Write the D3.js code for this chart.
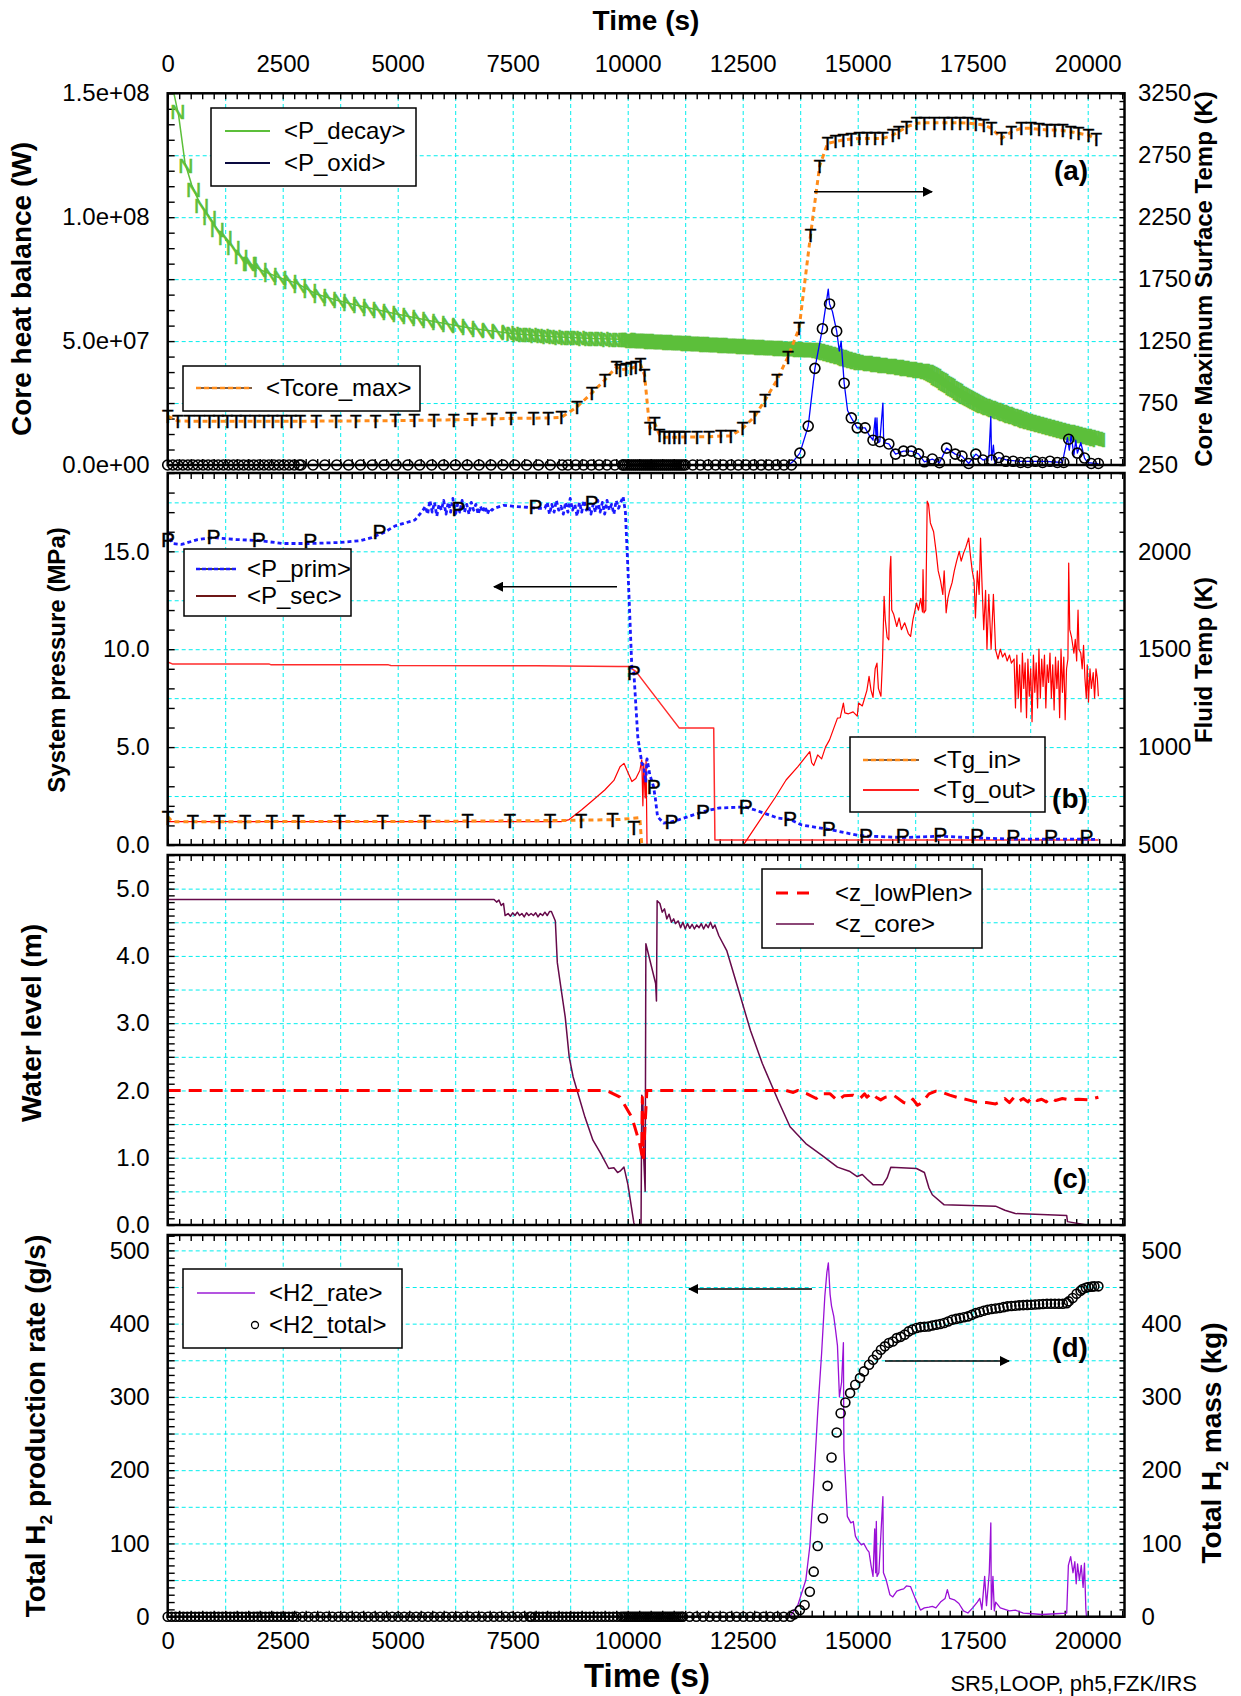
<!DOCTYPE html>
<html>
<head>
<meta charset="utf-8">
<script src="https://cdn.jsdelivr.net/npm/d3@7"></script>
<style>
  body { margin: 0; background: #fff; }
  svg { display: block; font-family: "Liberation Sans", Arial, sans-serif; }
  .grid line { stroke: #00eeee; stroke-width: 1; stroke-dasharray: 4 3; }
  .tk line { stroke: #000; stroke-width: 1.4; }
  .lab text { font-size: 24px; font-family: "Liberation Sans", Arial, sans-serif; }
  .title { font-weight: bold; }
</style>
</head>
<body>
<svg id="chart" width="1241" height="1696"></svg>
<script>
// ---- tick labels ----
const timeLabels = [0, 2500, 5000, 7500, 10000, 12500, 15000, 17500, 20000];
const heatLabels = [0, 5e7, 1e8, 1.5e8];
const tcoreLabels = [250, 750, 1250, 1750, 2250, 2750, 3250];
const pressLabels = [0, 5, 10, 15];
const fluidLabels = [500, 1000, 1500, 2000];
const levelLabels = [0, 1, 2, 3, 4, 5];
const h2Labels = [0, 100, 200, 300, 400, 500];

// ---- panel (a): core heat balance [t (s), W] and Tcore [t, K] ----
const pDecay = [[0,1.75e8],[135,1.5e8],[238,1.41e8],[375,1.22e8],[522,1.13e8],[694,1.057e8],[908,1.0e8],
  [1080,9.5e7],[1295,9.1e7],[1510,8.55e7],[1768,8.15e7],[2025,7.87e7],[2369,7.6e7],[2799,7.34e7],[3228,6.9e7],
  [3658,6.66e7],[4088,6.46e7],[4947,6.1e7],[5806,5.78e7],[6666,5.5e7],[7525,5.3e7],[8384,5.18e7],[9243,5.1e7],
  [9833,5.07e7],[12000,4.85e7],[14130,4.64e7],[14990,4.17e7],[15849,3.97e7],[16536,3.77e7],[16880,3.35e7],
  [17310,2.8e7],[17740,2.4e7],[18427,1.95e7],[18690,1.78e7],[19286,1.48e7],[20232,1.05e7]];
// spacing of the "N" symbols along P_decay: [from, to, step]
const decaySymbolSegs = [[221,1800,172],[1800,7500,215],[7500,10000,130],[10000,20250,40]];

const pOxid = [[0,0],[13500,0],[13600,1.5e6],[13743,4.8e6],[13924,1.57e7],[14070,3.9e7],[14233,5.5e7],[14360,7.1e7],
  [14388,6.5e7],[14450,6.2e7],[14543,5.4e7],[14600,4.6e7],[14640,5.0e7],[14706,3.3e7],[14780,2.2e7],[14861,1.9e7],
  [14990,1.5e7],[15100,1.5e7],[15161,1.5e7],[15250,1.2e7],[15333,1.0e7],[15380,1.9e7],[15400,1.0e7],[15419,1.9e7],
  [15440,9e6],[15480,9.4e6],[15548,2.5e7],[15565,9e6],[15677,8.5e6],[15823,4.4e6],[15995,5.6e6],[16167,5.6e6],
  [16322,4.5e6],[16450,1.3e6],[16622,2.4e6],[16777,0.9e6],[16932,6.8e6],[17121,4.4e6],[17267,3.6e6],[17413,0.6e6],
  [17568,4.4e6],[17723,2e6],[17850,3e6],[17894,1.95e7],[17910,2e6],[17950,8e6],[17980,1e6],[18066,3e6],[18250,2e6],
  [18500,1.5e6],[18800,1.5e6],[19100,1.5e6],[19450,1e6],[19560,1.1e7],[19600,6e6],[19640,1.2e7],[19700,4e6],
  [19740,1.0e7],[19776,4.8e6],[19850,9e6],[19931,2.8e6],[20000,1e6],[20232,0.5e6]];
const pOxidSymbols = [[13743,4.8e6],[13924,1.57e7],[14070,3.9e7],[14233,5.5e7],[14388,6.5e7],[14543,5.4e7],
  [14706,3.3e7],[14861,1.9e7],[14990,1.5e7],[15161,1.5e7],[15333,1.0e7],[15480,9.4e6],[15677,8.5e6],[15823,4.4e6],
  [15995,5.6e6],[16167,5.6e6],[16322,4.5e6],[16450,1.3e6],[16622,2.4e6],[16777,0.9e6],[16932,6.8e6],[17121,4.4e6],
  [17267,3.6e6],[17413,0.6e6],[17568,4.4e6],[17723,2e6],[17912,2e6],[18066,3e6],[18220,1.5e6],[18380,1.5e6],
  [18540,1e6],[18700,1e6],[18860,1.5e6],[19020,1e6],[19180,1.5e6],[19340,1e6],[19480,1e6],[19587,1.04e7],
  [19776,4.8e6],[19931,2.8e6],[20077,0.6e6],[20232,0.6e6]];
const pOxidZeroSegs = [[0,2900,110],[2900,8700,258],[8700,9900,170],[9900,11250,45],[11250,13650,165]];

const tcoreTime = [0,221,462,694,908,1106,1295,1493,1682,1896,2094,2283,2481,2687,2885,3228,3658,4088,4517,4947,
  5360,5789,6219,6623,7052,7465,7954,8272,8556,8900,9218,9501,9759,9833,9962,10074,10177,10280,10366,10478,
  10589,10692,10796,10907,11011,11122,11251,11509,11767,12025,12239,12497,12755,12987,13245,13485,13726,13975,14173,14345,
  14517,14689,14861,15033,15204,15376,15548,15763,15892,16064,16279,16450,16665,16880,17052,17224,17396,17568,17739,17911,
  18126,18341,18556,18771,18943,19115,19286,19458,19630,19802,20017,20189];
const tcoreK = [645,605,604,604,604,604,604,604,604,604,604,604,604,604,604,604,605,606,607,608,
  610,612,615,618,622,626,628,630,634,720,830,936,1043,1017,1025,1030,1043,1060,977,545,
  586,492,473,473,473,476,476,477,478,484,484,545,640,775,936,1124,1353,2106,2665,2846,
  2860,2873,2881,2886,2886,2886,2886,2913,2940,2980,3008,3013,3013,3013,3013,3013,3010,3002,2994,2967,
  2886,2940,2967,2967,2960,2954,2954,2950,2940,2927,2913,2878];

// ---- panel (b): pressures [t, MPa] and fluid temperatures [t, K] ----
const pPrim = [[0,16.0],[100,15.4],[300,15.35],[650,15.6],[994,15.7],[1500,15.6],[1982,15.55],[2500,15.4],[3100,15.4],
  [3744,15.45],[4200,15.55],[4432,15.7],[4690,15.95],[4947,16.3],[5377,16.6],[5550,17.1],
  [5600,17.3],[5650,16.9],[5700,17.6],[5750,17.0],[5800,17.5],[5850,16.8],[5900,17.4],[5950,17.1],[6000,17.6],[6050,16.9],
  [6100,17.5],[6150,17.0],[6200,17.7],[6250,16.8],[6300,17.4],[6350,17.0],[6400,17.6],[6450,17.0],[6500,17.4],[6550,16.9],
  [6600,17.5],[6650,17.1],[6700,17.4],[6750,16.9],[6800,17.3],[6850,17.0],[6900,17.3],[6950,16.9],[7000,17.2],[7050,17.1],
  [7100,17.2],[7300,17.35],[7525,17.3],[7800,17.25],[8000,17.2],[8200,17.2],
  [8250,17.5],[8300,16.9],[8350,17.4],[8400,17.0],[8450,17.6],[8500,17.1],[8550,17.3],[8600,16.9],[8650,17.5],[8700,17.0],
  [8750,17.7],[8800,17.1],[8850,17.4],[8900,16.8],[8950,17.5],[9000,17.0],[9050,17.6],[9100,17.1],[9150,17.3],[9200,16.9],
  [9250,17.4],[9300,17.0],[9350,17.6],[9400,17.0],[9450,17.5],[9500,16.9],[9550,17.6],[9600,17.1],[9650,17.4],[9700,16.9],
  [9750,17.6],[9800,17.2],[9850,17.5],[9900,17.8],[9950,17.0],
  [10005,14.1],[10091,9.0],[10134,8.8],[10220,5.5],[10306,4.2],[10349,4.0],[10392,3.2],[10420,4.4],[10480,3.6],
  [10560,3.0],[10600,2.4],[10649,1.45],[10778,1.12],[10950,1.18],[11122,1.3],[11380,1.5],[11638,1.7],[11982,1.89],
  [12411,1.93],[12566,1.93],[12755,1.8],[13271,1.37],[13529,1.3],[13786,1.02],[14371,0.8],[14990,0.5],[15178,0.46],
  [15978,0.38],[16794,0.45],[17593,0.36],[18384,0.3],[19200,0.3],[19973,0.3],[20232,0.28]];
const pPrimSymbols = [[6,15.6],[994,15.75],[1982,15.6],[3100,15.55],[4603,16.0],[6322,17.2],[7997,17.3],[9218,17.5],
  [10134,8.8],[10564,3.0],[10950,1.2],[11638,1.7],[12566,1.95],[13529,1.36],[14371,0.85],[15178,0.5],[15978,0.5],
  [16794,0.55],[17593,0.5],[18384,0.43],[19200,0.43],[19973,0.43]];
const pSec = [[0,9.35],[100,9.25],[2200,9.25],[2250,9.2],[4800,9.2],[4850,9.17],[8000,9.15],[9800,9.12],[10005,9.12],
  [10177,8.87],[11122,5.97],[11870,5.97],[11896,0.26],[20232,0.26]];
const tgIn = [[0,645],[100,619],[5000,620],[8500,625],[9833,630],[10263,640],[10306,500],[10330,470]];
const tgInSymbols = [[6,640],[547,619],[1123,619],[1682,619],[2266,619],[2842,619],[3744,619],[4672,620],[5592,621],
  [6520,622],[7439,624],[8315,625],[8986,625],[9673,629],[10134,590]];
const tgOut = [[0,619],[8556,619],[8728,630],[9000,680],[9250,730],[9501,781],[9700,830],[9833,900],[9919,917],
  [10005,870],[10091,824],[10177,840],[10263,880],[10306,935],[10330,700],[10349,917],[10380,740],[10400,935],
  [10420,500],[10440,470],[12480,470],[12500,495],[12927,645],[13200,740],[13443,832],[13700,900],[13850,945],
  [13959,977],[14000,920],[14044,906],[14130,960],[14216,940],[14300,1000],[14388,1037],[14560,1148],[14620,1150],
  [14689,1225],[14720,1175],[14800,1170],[14900,1180],[14990,1158],[15020,1225],[15100,1210],[15200,1290],[15247,1361],
  [15290,1290],[15333,1254],[15380,1400],[15419,1429],[15450,1300],[15505,1260],[15540,1450],[15574,1770],[15600,1650],
  [15640,1560],[15677,1548],[15700,1900],[15720,1974],[15740,1700],[15780,1680],[15849,1616],[15900,1660],[15950,1600],
  [16021,1635],[16100,1580],[16150,1565],[16200,1650],[16279,1736],[16320,1700],[16370,1760],[16408,1690],[16420,1906],
  [16440,1686],[16480,1700],[16511,2256],[16540,2240],[16580,2145],[16650,2100],[16708,1992],[16750,1900],[16800,1850],
  [16850,1780],[16880,1900],[16923,1686],[16960,1760],[17000,1800],[17052,1840],[17100,1900],[17150,1950],[17207,2000],
  [17250,1950],[17300,1990],[17350,2020],[17413,2068],[17450,1980],[17490,1900],[17530,1850],[17560,1660],[17600,1900],
  [17640,1780],[17671,2068],[17700,1850],[17740,1600],[17780,1800],[17810,1500],[17850,1780],[17900,1500],[17950,1780],
  [17997,1497],[18050,1450],[18100,1500],[18150,1460],[18200,1480],[18250,1440],[18300,1470],[18341,1429],[18400,1450],
  [18430,1200],[18460,1470],[18490,1250],[18520,1420],[18550,1180],[18580,1480],[18610,1300],[18640,1430],[18670,1150],
  [18700,1450],[18730,1260],[18760,1400],[18790,1130],[18820,1470],[18850,1280],[18880,1430],[18910,1200],[18940,1500],
  [18970,1250],[19000,1450],[19030,1310],[19060,1470],[19090,1200],[19120,1420],[19150,1330],[19180,1480],[19210,1250],
  [19240,1420],[19270,1190],[19300,1460],[19330,1300],[19360,1440],[19390,1150],[19420,1500],[19450,1280],[19480,1460],
  [19510,1140],[19540,1400],[19570,1450],[19587,1940],[19610,1600],[19650,1560],[19700,1480],[19730,1550],[19760,1440],
  [19790,1700],[19810,1500],[19850,1480],[19880,1400],[19910,1520],[19940,1350],[19970,1250],[19990,1420],[20017,1230],
  [20050,1400],[20080,1300],[20120,1380],[20150,1250],[20180,1400],[20210,1350],[20232,1260]];

// ---- panel (c): water levels [t, m] ----
const zLowPlen = [[0,2.0],[9501,2.0],[9600,1.98],[9833,1.9],[10091,1.6],[10200,1.35],[10263,1.2],[10306,1.05],
  [10318,1.9],[10340,1.0],[10417,2.0],[13443,2.0],[13600,1.97],[13700,2.0],[13900,1.95],
  [14100,1.88],[14200,1.95],[14400,1.95],[14560,1.85],[14700,1.92],[14900,1.93],[15050,1.88],[15150,1.95],[15200,1.9],
  [15300,1.96],[15400,1.9],[15500,1.86],[15600,1.9],[15800,1.92],[16000,1.82],[16107,1.8],[16200,1.87],[16300,1.78],
  [16400,1.82],[16550,1.95],[16700,1.99],[16800,1.98],[17000,1.93],[17200,1.89],[17400,1.86],[17568,1.83],[17800,1.82],
  [17997,1.8],[18100,1.83],[18200,1.88],[18300,1.82],[18400,1.9],[18500,1.84],[18600,1.88],[18700,1.83],[18800,1.9],
  [18900,1.85],[19000,1.87],[19100,1.83],[19200,1.89],[19300,1.85],[19450,1.88],[19600,1.86],[19800,1.87],[20000,1.86],
  [20232,1.9]];
const zCore = [[0,4.84],[7095,4.84],[7150,4.8],[7200,4.83],[7250,4.75],[7300,4.78],[7335,4.6],[7400,4.63],[7450,4.59],
  [7500,4.64],[7550,4.6],[7600,4.65],[7650,4.6],[7700,4.63],[7750,4.58],[7800,4.64],[7850,4.6],[7900,4.63],[7950,4.6],
  [8000,4.64],[8050,4.58],[8100,4.63],[8150,4.6],[8200,4.65],[8250,4.6],[8300,4.66],[8341,4.66],[8427,4.52],[8470,3.9],
  [8556,3.49],[8642,3.09],[8728,2.5],[8814,2.2],[8943,1.9],[9072,1.6],[9244,1.26],[9416,1.06],[9587,0.84],[9700,0.85],
  [9780,0.78],[9833,0.8],[9919,0.86],[10005,0.6],[10134,0.03],[10150,0],[10290,0],[10306,1.93],[10330,1.85],[10350,0.97],
  [10380,0.5],[10395,4.18],[10607,3.59],[10625,3.33],[10640,4.82],[10700,4.78],[10750,4.65],[10800,4.7],[10850,4.55],
  [10900,4.62],[10950,4.5],[11000,4.55],[11036,4.48],[11100,4.52],[11150,4.42],[11200,4.5],[11250,4.4],[11300,4.48],
  [11350,4.41],[11400,4.47],[11450,4.4],[11500,4.46],[11552,4.42],[11600,4.48],[11650,4.4],[11700,4.47],[11750,4.42],
  [11800,4.5],[11850,4.41],[11896,4.46],[11982,4.3],[12153,4.08],[12411,3.49],[12669,2.89],[12927,2.4],[13271,1.85],
  [13529,1.46],[13872,1.21],[14216,1.04],[14560,0.86],[14818,0.8],[14990,0.72],[15100,0.75],[15204,0.68],[15333,0.6],
  [15548,0.6],[15640,0.7],[15720,0.86],[16279,0.84],[16450,0.78],[16550,0.55],[16622,0.45],[16880,0.3],[17997,0.28],
  [18200,0.22],[18427,0.17],[19544,0.14],[19560,0.05],[19974,0],[20232,0]];

// ---- panel (d): hydrogen [t, g/s] and [t, kg] ----
const h2Rate = [[0,0],[13528,0],[13700,16],[13872,50],[13959,96],[14044,182],[14130,278],[14216,360],[14285,437],
  [14330,470],[14362,483],[14400,440],[14431,424],[14480,410],[14517,392],[14560,370],[14603,300],[14650,320],
  [14689,374],[14700,228],[14775,137],[14850,128],[14904,130],[14950,110],[14990,105],[15080,98],[15130,100],
  [15200,92],[15247,88],[15290,70],[15333,55],[15370,120],[15390,60],[15405,130],[15420,55],[15460,60],[15548,164],
  [15560,60],[15620,50],[15700,30],[15763,27],[15850,35],[15935,37],[16000,38],[16060,42],[16150,41],[16250,25],
  [16365,9],[16450,12],[16550,13],[16622,14],[16700,12],[16800,20],[16900,25],[16949,37],[17000,25],[17100,23],
  [17200,18],[17300,8],[17396,5],[17500,12],[17600,20],[17654,25],[17700,10],[17760,55],[17800,15],[17860,60],
  [17894,128],[17905,10],[17940,55],[17970,8],[18000,20],[18100,12],[18300,8],[18427,9],[18600,5],[18800,4],
  [19000,3],[19300,4],[19544,5],[19580,70],[19630,82],[19680,60],[19720,75],[19750,45],[19780,72],[19820,50],
  [19860,70],[19900,40],[19930,73],[19960,10],[19974,0],[20232,0]];
const h2Total = [[13614,3],[13743,9],[13846,16],[13959,34],[14044,61.5],[14130,96.6],[14242,134.4],[14345,178.6],
  [14431,217.3],[14543,251.4],[14629,277.8],[14732,292.4],[14835,305.2],[14947,316.5],[15049,325.7],[15135,334.8],
  [15247,343.9],[15333,350.7],[15419,357.5],[15505,364.4],[15591,369],[15677,373.5],[15763,375.7],[15849,380.3],
  [15935,382],[16021,385],[16107,389.4],[16190,392],[16279,394],[16364,395.3],[16450,395.8],[16536,396.2],
  [16622,397.5],[16708,398.5],[16794,399.5],[16880,400.8],[16966,403],[17052,405.3],[17138,406.5],[17224,407.6],
  [17310,408.8],[17396,409.9],[17482,412],[17568,414.4],[17654,416],[17739,417.6],[17825,419],[17911,419.9],
  [17997,420.6],[18083,421.3],[18169,422.5],[18255,423.6],[18341,424],[18427,424.5],[18513,425],[18599,425.3],
  [18685,425.6],[18771,425.8],[18857,426.2],[18943,426.5],[19029,426.8],[19115,427.2],[19201,427.2],[19287,427.2],
  [19373,427.2],[19458,427.2],[19544,428],[19587,430.4],[19673,435],[19759,440.9],[19845,445],[19888,447.2],
  [19960,449],[20017,450],[20090,450.5],[20146,450.9],[20232,450.9]];
const h2TotalZeroSegs = [[0,2800,85],[2800,7900,130],[7900,9900,85],[9900,11200,40],[11200,13550,146]];

// ---------------------------------------------------------------
const svg = d3.select('#chart');
const X0 = 167.7, X1 = 1124.5;
const x = d3.scaleLinear().domain([0, 20800]).range([X0, X1]);
const timeGrid = d3.range(1250, 20001, 1250);
const timeTicks = d3.range(0, 20801, 250);

const defs = svg.append('defs');
defs.append('marker').attr('id', 'head').attr('viewBox', '0 0 10 10').attr('refX', 9).attr('refY', 5)
  .attr('markerWidth', 14).attr('markerHeight', 10).attr('markerUnits', 'userSpaceOnUse').attr('orient', 'auto')
  .append('path').attr('d', 'M0,0L10,5L0,10Z').attr('fill', '#000');

function noDomain(a) { a.select('.domain').remove(); }
const expFmt = v => v.toExponential(1).replace(/e\+(\d)$/, 'e+0$1');

function panel(p) {
  const g = svg.append('g');
  const h = p.bottom - p.top;
  const yL = d3.scaleLinear().domain(p.left).range([p.bottom, p.top]);
  const yR = p.right ? d3.scaleLinear().domain(p.right).range([p.bottom, p.top]) : yL;

  defs.append('clipPath').attr('id', 'clip-' + p.id).append('rect')
    .attr('x', X0).attr('y', p.top).attr('width', X1 - X0).attr('height', h);

  g.append('g').attr('class', 'grid').attr('transform', `translate(0,${p.bottom})`)
    .call(d3.axisBottom(x).tickValues(timeGrid).tickSize(-h).tickFormat('')).call(noDomain);
  g.append('g').attr('class', 'grid').attr('transform', `translate(${X0},0)`)
    .call(d3.axisLeft(yL).tickValues(p.grid).tickSize(-(X1 - X0)).tickFormat('')).call(noDomain);

  g.append('g').attr('class', 'tk').attr('transform', `translate(0,${p.bottom})`)
    .call(d3.axisBottom(x).tickValues(timeTicks).tickSize(-6).tickFormat('')).call(noDomain);
  g.append('g').attr('class', 'tk').attr('transform', `translate(0,${p.top})`)
    .call(d3.axisTop(x).tickValues(timeTicks).tickSize(-6).tickFormat('')).call(noDomain);
  g.append('g').attr('class', 'tk').attr('transform', `translate(${X0},0)`)
    .call(d3.axisLeft(yL).tickValues(p.minorL).tickSize(-7).tickFormat('')).call(noDomain);
  g.append('g').attr('class', 'tk').attr('transform', `translate(${X1},0)`)
    .call(d3.axisRight(yR).tickValues(p.minorR).tickSize(-5).tickFormat('')).call(noDomain);

  g.append('g').attr('class', 'lab').attr('transform', `translate(${X0},0)`)
    .call(d3.axisLeft(yL).tickValues(p.labelsL).tickSize(0).tickPadding(18).tickFormat(p.fmtL)).call(noDomain);
  if (p.labelsR) {
    g.append('g').attr('class', 'lab').attr('transform', `translate(${X1},0)`)
      .call(d3.axisRight(yR).tickValues(p.labelsR).tickSize(0).tickPadding(p.padR || 13.5).tickFormat(d3.format('d')))
      .call(noDomain);
  }
  const data = svg.append('g').attr('clip-path', `url(#clip-${p.id})`);
  const marks = svg.append('g');
  svg.append('rect').attr('x', X0).attr('y', p.top).attr('width', X1 - X0).attr('height', h)
    .attr('fill', 'none').attr('stroke', '#000').attr('stroke-width', 2.5);
  return { yL, yR, data, marks, p };
}

function line(g, pts, y, color, width, dash) {
  g.append('path').datum(pts)
    .attr('d', d3.line().x(d => x(d[0])).y(d => y(d[1])))
    .attr('fill', 'none').attr('stroke', color).attr('stroke-width', width)
    .attr('stroke-dasharray', dash || null).attr('stroke-linejoin', 'round');
}
// letter symbols placed on the data points, as the plotting program draws them
function glyphs(g, pts, y, ch, size, color, thick) {
  g.selectAll(null).data(pts).join('text')
    .attr('x', d => x(d[0])).attr('y', d => y(d[1])).attr('dy', '0.36em')
    .attr('text-anchor', 'middle').attr('font-size', size).attr('fill', color)
    .attr('stroke', color).attr('stroke-width', thick || 0.4).text(ch);
}
function circles(g, pts, y, r) {
  g.selectAll(null).data(pts).join('circle')
    .attr('cx', d => x(d[0])).attr('cy', d => y(d[1])).attr('r', r)
    .attr('fill', 'none').attr('stroke', '#000').attr('stroke-width', 1.6);
}
const segTimes = segs => segs.flatMap(([a, b, s]) => d3.range(a, b, s));

function legend(box, entries) {
  const g = svg.append('g');
  g.append('rect').attr('x', box[0]).attr('y', box[1]).attr('width', box[2]).attr('height', box[3])
    .attr('fill', '#fff').attr('stroke', '#000').attr('stroke-width', 1.5);
  entries.forEach(e => {
    if (e.under) g.append('line').attr('x1', e.x1).attr('x2', e.x2).attr('y1', e.y).attr('y2', e.y)
      .attr('stroke', e.under).attr('stroke-width', 1.5);
    if (e.color) g.append('line').attr('x1', e.x1).attr('x2', e.x2).attr('y1', e.y).attr('y2', e.y)
      .attr('stroke', e.color).attr('stroke-width', e.w || 2).attr('stroke-dasharray', e.dash || null);
    if (e.circle) g.append('circle').attr('cx', e.x2).attr('cy', e.y).attr('r', 3.5)
      .attr('fill', 'none').attr('stroke', '#000').attr('stroke-width', 1.3);
    g.append('text').attr('x', e.tx).attr('y', e.y + 8).attr('font-size', 24).text(e.text);
  });
}
function arrow(x1, y1, x2, y2) {
  svg.append('line').attr('x1', x1).attr('y1', y1).attr('x2', x2).attr('y2', y2)
    .attr('stroke', '#000').attr('stroke-width', 1.5).attr('marker-end', 'url(#head)');
}
function tag(txt, cx, cy) {
  svg.append('text').attr('class', 'title').attr('x', cx).attr('y', cy).attr('dy', '0.36em')
    .attr('text-anchor', 'middle').attr('font-size', 28).text(txt);
}
function vtitle(parts, cx, cy, size) {
  const t = svg.append('text').attr('class', 'title').attr('text-anchor', 'middle')
    .attr('transform', `translate(${cx},${cy}) rotate(-90)`).attr('font-size', size);
  parts.forEach(s => {
    if (s === '2') t.append('tspan').attr('font-size', size * 0.62).attr('dy', 7).text('2');
    else t.append('tspan').attr('dy', t.selectAll('tspan').size() ? -7 : 0).text(s);
  });
}

// ---------------- panel (a) ----------------
const A = panel({ id: 'a', top: 93.3, bottom: 465, left: [0, 1.5e8], right: [250, 3250],
  grid: d3.range(2.5e7, 1.4e8, 2.5e7), minorL: d3.range(0, 1.51e8, 6.25e6), minorR: d3.range(250, 3251, 62.5),
  labelsL: heatLabels, fmtL: expFmt, labelsR: tcoreLabels });
const decayAt = d3.scaleLinear().domain(pDecay.map(d => d[0])).range(pDecay.map(d => d[1]));
line(A.data, pDecay, A.yL, '#5cbf3a', 1.5);
glyphs(A.data, segTimes(decaySymbolSegs).map(t => [t, decayAt(t)]), A.yL, 'N', 21, '#5cbf3a', 0.6);
line(A.data, pOxid, A.yL, '#0000ff', 1.3);
const tcore = d3.zip(tcoreTime, tcoreK);
line(A.data, tcore, A.yR, '#ff8c1a', 3, '5 4');
glyphs(A.marks, tcore, A.yR, 'T', 19, '#000');
circles(A.marks, pOxidSymbols, A.yL, 5);
circles(A.marks, segTimes(pOxidZeroSegs).map(t => [t, 0]), A.yL, 5);

// ---------------- panel (b) ----------------
const B = panel({ id: 'b', top: 473, bottom: 845, left: [0, 19], right: [500, 2400],
  grid: [2.5, 5, 7.5, 10, 12.5, 15, 17.5], minorL: d3.range(0, 19.01, 1), minorR: d3.range(500, 2401, 100),
  labelsL: pressLabels, fmtL: d3.format('.1f'), labelsR: fluidLabels });
line(B.data, pSec, B.yL, '#ff2b2b', 1.5);
line(B.data, tgOut, B.yR, '#ff0000', 1.2);
line(B.data, tgIn, B.yR, '#ff8c1a', 3, '5 4');
line(B.data, pPrim, B.yL, '#1a1aff', 2.8, '4 3');
glyphs(B.marks, tgInSymbols, B.yR, 'T', 20, '#000');
glyphs(B.marks, pPrimSymbols, B.yL, 'P', 21, '#000');

// ---------------- panel (c) ----------------
const C = panel({ id: 'c', top: 855, bottom: 1225, left: [0, 5.5], right: null,
  grid: d3.range(0.5, 5.01, 0.5), minorL: d3.range(0, 5.51, 0.1), minorR: d3.range(0, 5.51, 0.1),
  labelsL: levelLabels, fmtL: d3.format('.1f'), labelsR: null });
line(C.data, zCore, C.yL, '#660a4a', 1.5);
line(C.data, zLowPlen, C.yL, '#ff0000', 3, '13 8');

// ---------------- panel (d) ----------------
const D = panel({ id: 'd', top: 1235, bottom: 1616.7, left: [0, 521], right: [0, 521],
  grid: d3.range(50, 501, 50), minorL: d3.range(0, 521, 10), minorR: d3.range(0, 521, 10),
  labelsL: h2Labels, fmtL: d3.format('d'), labelsR: h2Labels, padR: 17 });
line(D.data, h2Rate, D.yL, '#9a10d6', 1.3);
circles(D.marks, segTimes(h2TotalZeroSegs).map(t => [t, 0]), D.yR, 4.5);
circles(D.marks, h2Total, D.yR, 4.5);

// time axes labels (top of a, bottom of d)
svg.append('g').attr('class', 'lab').attr('transform', `translate(0,${A.p.top})`)
  .call(d3.axisTop(x).tickValues(timeLabels).tickSize(0).tickPadding(21.7).tickFormat(d3.format('d'))).call(noDomain);
svg.append('g').attr('class', 'lab').attr('transform', `translate(0,${D.p.bottom})`)
  .call(d3.axisBottom(x).tickValues(timeLabels).tickSize(0).tickPadding(15).tickFormat(d3.format('d'))).call(noDomain);

// titles
svg.append('text').attr('class', 'title').attr('x', 646).attr('y', 30).attr('text-anchor', 'middle')
  .attr('font-size', 28).text('Time (s)');
svg.append('text').attr('class', 'title').attr('x', 647).attr('y', 1687).attr('text-anchor', 'middle')
  .attr('font-size', 33).text('Time (s)');
vtitle(['Core heat balance (W)'], 38, 289, 28);
vtitle(['System pressure (MPa)'], 72, 660, 24);
vtitle(['Water level (m)'], 48, 1023, 28);
vtitle(['Total H', '2', ' production rate (g/s)'], 52, 1426, 28);
vtitle(['Core Maximum Surface Temp (K)'], 1219, 279, 24);
vtitle(['Fluid Temp (K)'], 1219, 660, 24);
vtitle(['Total H', '2', ' mass (kg)'], 1228, 1443, 28);
tag('(a)', 1071, 170);
tag('(b)', 1070, 798);
tag('(c)', 1070, 1178);
tag('(d)', 1070, 1347);
svg.append('text').attr('x', 1197).attr('y', 1691).attr('text-anchor', 'end').attr('font-size', 22)
  .text('SR5,LOOP, ph5,FZK/IRS');

// arrows
arrow(814, 191.7, 932, 191.7);
arrow(617, 586.7, 494, 586.7);
arrow(812, 1289, 689, 1289);
arrow(885, 1361, 1009, 1361);

// legends
legend([211, 108, 205, 78], [
  { x1: 225, x2: 270, y: 131, color: '#5cbf3a', tx: 284, text: '<P_decay>' },
  { x1: 225, x2: 270, y: 163, color: '#0a0a40', tx: 284, text: '<P_oxid>' }]);
legend([183, 366, 237, 45], [
  { x1: 196, x2: 252, y: 388, under: '#5a2a00', color: '#ff8c1a', dash: '5 3', w: 2.5, tx: 266, text: '<Tcore_max>' }]);
legend([184, 549, 167, 67], [
  { x1: 196, x2: 236, y: 569, under: '#000', color: '#1a1aff', dash: '4 2', w: 2.5, tx: 247, text: '<P_prim>' },
  { x1: 196, x2: 236, y: 596, color: '#6e1616', tx: 247, text: '<P_sec>' }]);
legend([850, 737, 195, 75], [
  { x1: 863, x2: 919, y: 760, under: '#5a2a00', color: '#ff8c1a', dash: '5 3', w: 2.5, tx: 933, text: '<Tg_in>' },
  { x1: 863, x2: 919, y: 790, color: '#ff2020', tx: 933, text: '<Tg_out>' }]);
legend([762, 869, 220, 79], [
  { x1: 776, x2: 814, y: 893, color: '#ff0000', dash: '12 9', w: 3, tx: 835, text: '<z_lowPlen>' },
  { x1: 776, x2: 814, y: 924, color: '#660a4a', w: 1.5, tx: 835, text: '<z_core>' }]);
legend([183, 1269, 219, 79], [
  { x1: 197, x2: 255, y: 1293, color: '#b455e0', tx: 269, text: '<H2_rate>' },
  { x1: 197, x2: 255, y: 1325, circle: true, tx: 269, text: '<H2_total>' }]);
</script>
</body>
</html>
